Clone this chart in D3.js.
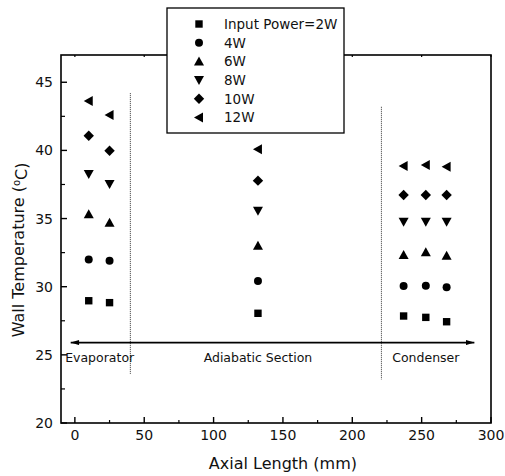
<!DOCTYPE html>
<html lang="en">
<head>
<meta charset="utf-8">
<script src="https://cdn.jsdelivr.net/npm/d3@7/dist/d3.min.js"></script>
<style>
body { margin: 0; background: #fff; }
text { font-family: "DejaVu Sans", sans-serif; fill: #111; }
</style>
</head>
<body>
<div id="chart"></div>
<script>

// positions along the pipe (mm)
var evapX = [10, 25];
var adiaX = [132];
var condX = [237, 253, 268];

// input power series
var powers = ["Input Power=2W", "4W", "6W", "8W", "10W", "12W"];
var shapes = ["square", "circle", "up", "down", "diamond", "left"];

// wall temperatures, one row per power, columns: evap, evap, adia, cond, cond, cond
var temp2W  = [28.97, 28.83, 28.05, 27.85, 27.75, 27.43];
var temp4W  = [32.0, 31.91, 30.42, 30.05, 30.07, 29.96];
var temp6W  = [35.31, 34.7, 33.01, 32.33, 32.52, 32.27];
var temp8W  = [38.27, 37.53, 35.58, 34.77, 34.77, 34.77];
var temp10W = [41.07, 39.98, 37.78, 36.73, 36.73, 36.73];
var temp12W = [43.62, 42.6, 40.08, 38.86, 38.93, 38.8];

var xTicks = [0, 50, 100, 150, 200, 250, 300];
var yTicks = [20, 25, 30, 35, 40, 45];

var sections = ["Evaporator", "Adiabatic Section", "Condenser"];
var sectionX = [-7, 132, 253];     // label anchor positions (mm)
var dividerX = [40, 221];
var dividerTop = [44.2, 43.2];
var dividerBottom = [23.6, 23.2];

var W = 505, H = 476;
var margin = {top: 55, right: 14, bottom: 53, left: 61};
var width = W - margin.left - margin.right,
    height = H - margin.top - margin.bottom;

var svg = d3.select("#chart").append("svg")
    .attr("width", W)
    .attr("height", H);

var g = svg.append("g")
    .attr("transform", "translate(" + margin.left + "," + margin.top + ")");

var x = d3.scaleLinear().domain([-10, 300]).range([0, width]);
var y = d3.scaleLinear().domain([20, 47]).range([height, 0]);

var allX = evapX.concat(adiaX).concat(condX);
var series = [temp2W, temp4W, temp6W, temp8W, temp10W, temp12W];

function markerPath(shape) {
  if (shape == "square") return "M-3.7,-3.7H3.7V3.7H-3.7Z";
  if (shape == "circle") return d3.symbol().type(d3.symbolCircle).size(50)();
  if (shape == "up") return "M0,-5L5,4L-5,4Z";
  if (shape == "down") return "M0,5L5,-4L-5,-4Z";
  if (shape == "diamond") return "M0,-5.2L5.2,0L0,5.2L-5.2,0Z";
  if (shape == "left") return "M-5,0L4,-5L4,5Z";
}

// frame
g.append("rect")
  .attr("width", width)
  .attr("height", height)
  .attr("fill", "none")
  .attr("stroke", "#000")
  .attr("stroke-width", 1.6);

// bottom axis ticks pointing in
var xMinor = d3.range(25, 300, 50);
g.selectAll(".xt").data(xTicks).enter().append("line")
  .attr("x1", function(d) { return x(d); }).attr("x2", function(d) { return x(d); })
  .attr("y1", height).attr("y2", height - 6)
  .attr("stroke", "#000").attr("stroke-width", 1.4);
g.selectAll(".xm").data(xMinor).enter().append("line")
  .attr("x1", function(d) { return x(d); }).attr("x2", function(d) { return x(d); })
  .attr("y1", height).attr("y2", height - 3)
  .attr("stroke", "#000").attr("stroke-width", 1.2);
g.selectAll(".xtop").data(xTicks).enter().append("line")
  .attr("x1", function(d) { return x(d); }).attr("x2", function(d) { return x(d); })
  .attr("y1", 0).attr("y2", 2)
  .attr("stroke", "#000").attr("stroke-width", 1.2);

g.selectAll(".xl").data(xTicks).enter().append("text")
  .attr("x", function(d) { return x(d); })
  .attr("y", height + 17)
  .attr("text-anchor", "middle")
  .style("font-size", "14px")
  .text(String);

// left axis ticks pointing in
var yMinor = d3.range(22.5, 47, 5);
g.selectAll(".yt").data(yTicks).enter().append("line")
  .attr("x1", 0).attr("x2", 6)
  .attr("y1", function(d) { return y(d); }).attr("y2", function(d) { return y(d); })
  .attr("stroke", "#000").attr("stroke-width", 1.4);
g.selectAll(".ym").data(yMinor).enter().append("line")
  .attr("x1", 0).attr("x2", 4)
  .attr("y1", function(d) { return y(d); }).attr("y2", function(d) { return y(d); })
  .attr("stroke", "#000").attr("stroke-width", 1.2);

g.selectAll(".yl").data(yTicks).enter().append("text")
  .attr("x", -8)
  .attr("y", function(d) { return y(d); })
  .attr("dy", "0.36em")
  .attr("text-anchor", "end")
  .style("font-size", "14px")
  .text(String);

// section dividers
g.selectAll(".div").data(dividerX).enter().append("line")
  .attr("x1", function(d) { return x(d); }).attr("x2", function(d) { return x(d); })
  .attr("y1", function(d, i) { return y(dividerTop[i]); })
  .attr("y2", function(d, i) { return y(dividerBottom[i]); })
  .attr("stroke", "#333").attr("stroke-width", 1)
  .attr("stroke-dasharray", "1,1");

// double arrow along the pipe
var defs = svg.append("defs");
defs.append("marker")
  .attr("id", "arr")
  .attr("viewBox", "0 0 10 6")
  .attr("refX", 10).attr("refY", 3)
  .attr("markerWidth", 10).attr("markerHeight", 5)
  .attr("markerUnits", "userSpaceOnUse")
  .attr("orient", "auto-start-reverse")
  .append("path").attr("d", "M0,0L10,3L0,6Z").attr("fill", "#000");

g.append("line")
  .attr("x1", x(-3)).attr("x2", x(288))
  .attr("y1", y(25.9)).attr("y2", y(25.9))
  .attr("stroke", "#000").attr("stroke-width", 1.8)
  .attr("marker-start", "url(#arr)")
  .attr("marker-end", "url(#arr)");

g.selectAll(".sec").data(sections).enter().append("text")
  .attr("x", function(d, i) { return x(sectionX[i]); })
  .attr("y", y(25.9) + 19)
  .attr("text-anchor", function(d, i) { return i == 0 ? "start" : "middle"; })
  .style("font-size", "12.5px")
  .text(String);

// data points
series.forEach(function(vals, si) {
  g.selectAll(".pt" + si).data(vals).enter().append("path")
    .attr("d", markerPath(shapes[si]))
    .attr("transform", function(d, i) { return "translate(" + x(allX[i]) + "," + y(d) + ")"; })
    .attr("fill", "#000");
});

// axis titles
svg.append("text")
  .attr("x", margin.left + x(150))
  .attr("y", 469)
  .attr("text-anchor", "middle")
  .style("font-size", "16px")
  .text("Axial Length (mm)");

var yt = svg.append("text")
  .attr("transform", "translate(24," + (margin.top + y(32.7)) + ") rotate(-90)")
  .attr("text-anchor", "middle")
  .style("font-size", "16px");
yt.append("tspan").text("Wall Temperature (");
yt.append("tspan").attr("dy", "-0.45em").style("font-size", "10px").text("o");
yt.append("tspan").attr("dy", "0.45em").text("C)");

// legend box
var lg = svg.append("g").attr("transform", "translate(167,8)");
lg.append("rect")
  .attr("width", 177).attr("height", 125)
  .attr("fill", "#fff").attr("stroke", "#000").attr("stroke-width", 1.3);
var rows = lg.selectAll(".lrow").data(powers).enter().append("g")
  .attr("transform", function(d, i) { return "translate(0," + (16 + i * 18.7) + ")"; });
rows.append("path")
  .attr("d", function(d, i) { return markerPath(shapes[i]); })
  .attr("transform", "translate(32,0)")
  .attr("fill", "#000");
rows.append("text")
  .attr("x", 57)
  .attr("dy", "0.36em")
  .style("font-size", "13.5px")
  .text(String);

</script>
</body>
</html>
